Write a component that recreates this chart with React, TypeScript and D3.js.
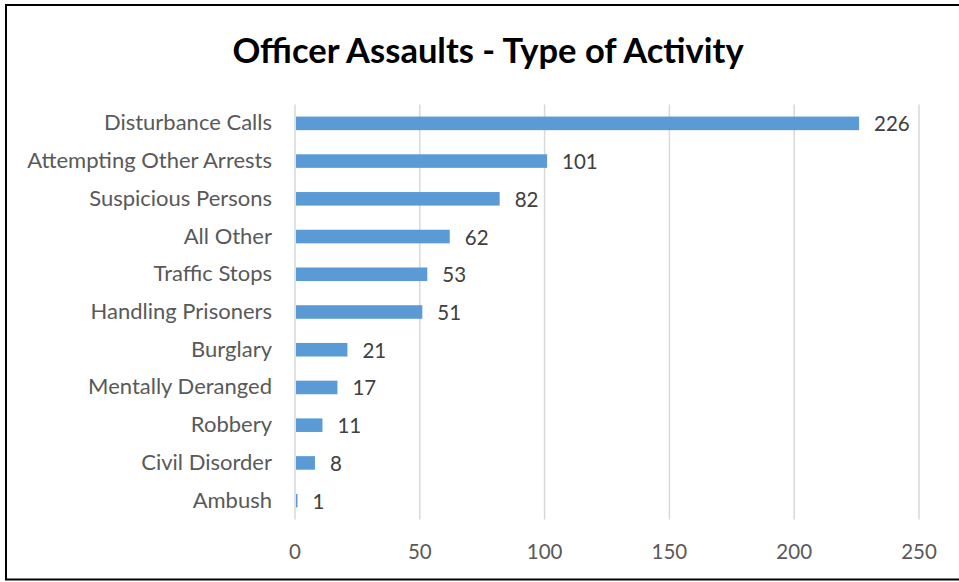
import React from "react";
import * as d3 from "d3";

const categories = [
  "Disturbance Calls",
  "Attempting Other Arrests",
  "Suspicious Persons",
  "All Other",
  "Traffic Stops",
  "Handling Prisoners",
  "Burglary",
  "Mentally Deranged",
  "Robbery",
  "Civil Disorder",
  "Ambush",
];
const values = [226, 101, 82, 62, 53, 51, 21, 17, 11, 8, 1];
const xTicks = [0, 50, 100, 150, 200, 250];
const title = "Officer Assaults - Type of Activity";

const W = 959;
const H = 582;
const FONT = "Lato, 'Open Sans', sans-serif";

export default function App() {
  const x = d3.scaleLinear().domain([0, 250]).range([295, 919]);
  const y = d3
    .scaleBand<string>()
    .domain(categories)
    .range([104.5, 519.5])
    .paddingInner(0.64)
    .paddingOuter(0.32);
  const bw = y.bandwidth();

  return (
    <svg
      width={W}
      height={H}
      style={{ position: "absolute", left: 0, top: 0, background: "#fff" }}
    >
      <rect x={0} y={0} width={W} height={H} fill="#fff" />
      <rect
        x={6}
        y={5}
        width={W + 10}
        height={574.5}
        fill="none"
        stroke="#000"
        strokeWidth={2}
      />
      <text
        x={488}
        y={49}
        textAnchor="middle"
        dominantBaseline="central"
        fontFamily={FONT}
        fontWeight={700}
        fontSize={34.5}
        fill="#000"
      >
        {title}
      </text>
      {xTicks.map((t) => (
        <g key={t}>
          <line
            x1={x(t)}
            x2={x(t)}
            y1={104.5}
            y2={519.5}
            stroke="#d9d9d9"
            strokeWidth={1.5}
          />
          <text
            x={x(t)}
            y={551}
            textAnchor="middle"
            dominantBaseline="central"
            fontFamily={FONT}
            fontSize={20.5}
            fill="#595959"
          >
            {t}
          </text>
        </g>
      ))}
      {categories.map((c, i) => {
        const yc = (y(c) as number) + bw / 2;
        return (
          <g key={c}>
            <rect
              x={x(0) + 1}
              y={y(c) as number}
              width={Math.max(0, x(values[i]) - x(0) - 1)}
              height={bw}
              fill="#5b9bd5"
            />
            <text
              x={272}
              y={yc - 1.5}
              textAnchor="end"
              dominantBaseline="central"
              fontFamily={FONT}
              fontSize={22}
              fill="#595959"
            >
              {c}
            </text>
            <text
              x={x(values[i]) + 15}
              y={yc}
              textAnchor="start"
              dominantBaseline="central"
              fontFamily={FONT}
              fontSize={20.5}
              fill="#404040"
            >
              {values[i]}
            </text>
          </g>
        );
      })}
    </svg>
  );
}
